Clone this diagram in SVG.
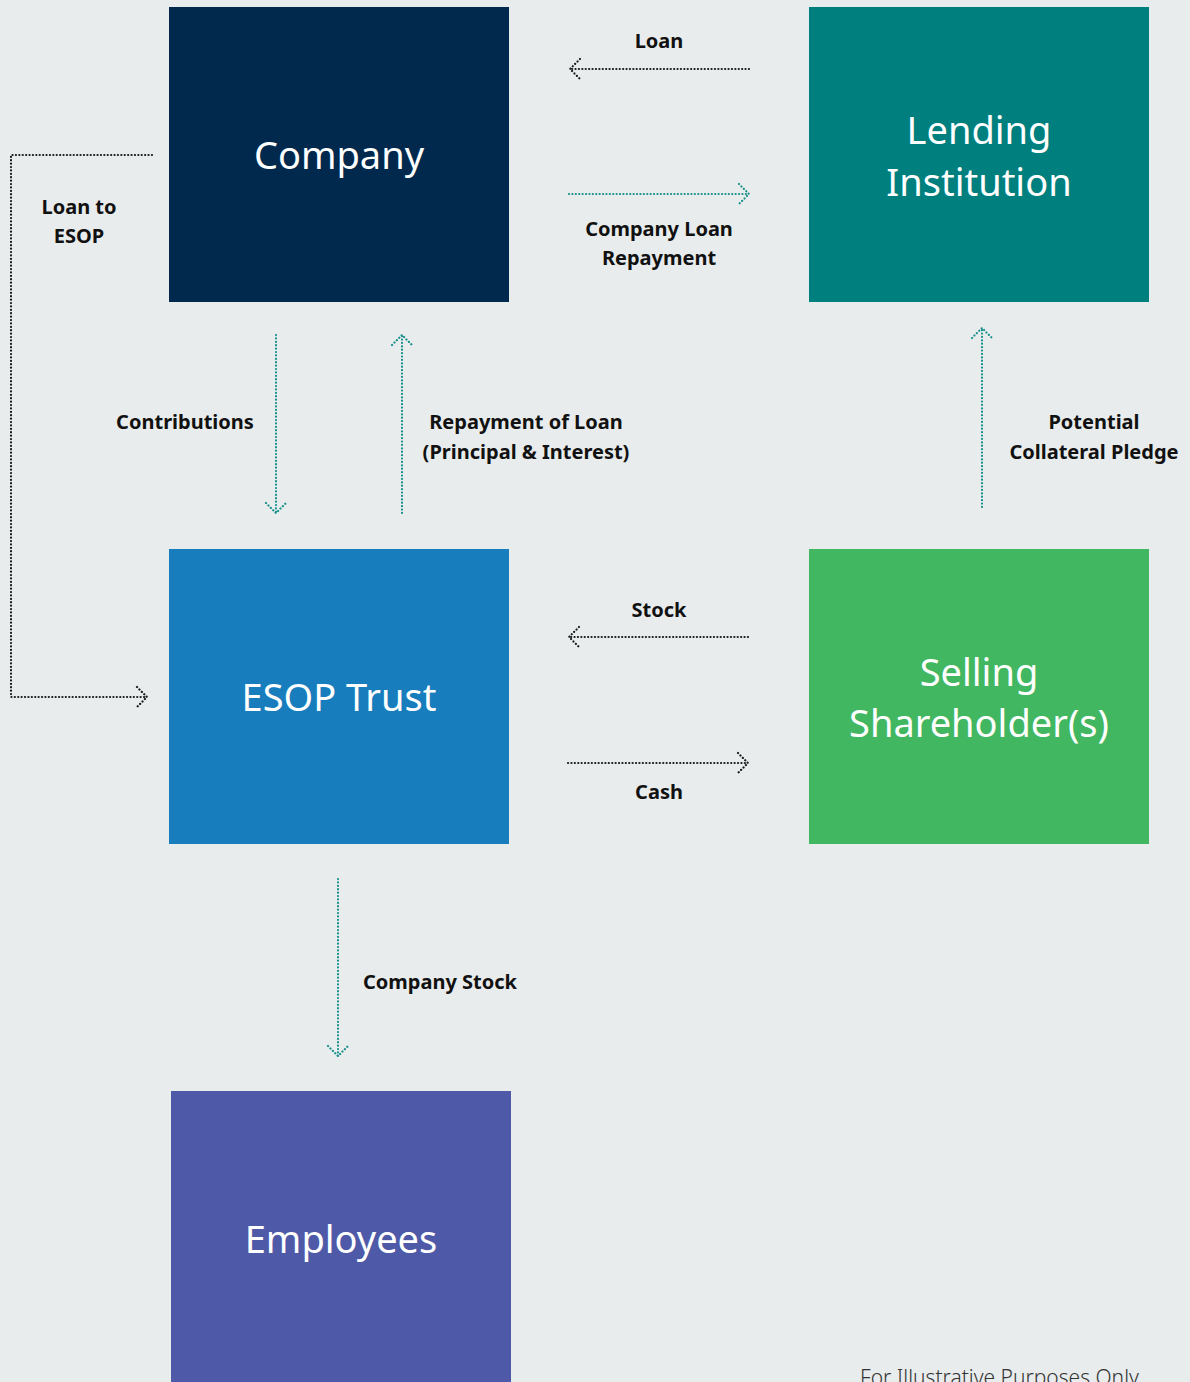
<svg xmlns="http://www.w3.org/2000/svg" width="1190" height="1382" viewBox="0 0 1190 1382">
<style>
.box{font-family:"Noto Sans","Open Sans",sans-serif;font-size:38px;fill:#ffffff;text-anchor:middle}
.lbl{font-family:"Noto Sans","Open Sans",sans-serif;font-size:20px;font-weight:bold;fill:#111111;text-anchor:middle}
.dk{fill:none;stroke:#1a1a1a;stroke-width:2.2;stroke-dasharray:0.1 3.3;stroke-linecap:round;stroke-linejoin:round}
.tl{fill:none;stroke:#17908c;stroke-width:2.2;stroke-dasharray:0.1 3.3;stroke-linecap:round;stroke-linejoin:round}
.note{font-family:"Noto Sans","Open Sans",sans-serif;font-size:21px;font-weight:300;fill:#333333}
</style>
<rect width="1190" height="1382" fill="#e8ecec"/>
<g id="company"><rect x="169" y="7" width="340" height="295" fill="#00294d"/><text class="box" x="339" y="169">Company</text></g>
<g id="lending"><rect x="809" y="7" width="340" height="295" fill="#007f7f"/><text class="box" x="979" y="144">Lending</text><text class="box" x="979" y="196">Institution</text></g>
<g id="esop"><rect x="169" y="549" width="340" height="295" fill="#177dbd"/><text class="box" x="339" y="711">ESOP Trust</text></g>
<g id="selling"><rect x="809" y="549" width="340" height="295" fill="#42b762"/><text class="box" x="979" y="686">Selling</text><text class="box" x="979" y="737">Shareholder(s)</text></g>
<g id="employees"><rect x="171" y="1091" width="340" height="295" fill="#4e5aa7"/><text class="box" x="341" y="1253">Employees</text></g>
<g id="connectors">
<path class="dk" d="M749 69 H570 M580 59 L570 69 L580 79"/>
<path class="tl" d="M569 194 H749 M739 184 L749 194 L739 204"/>
<path class="dk" d="M152 155 H11 V697 H147 M137 687 L147 697 L137 707"/>
<path class="tl" d="M276 335 V513 M266 503 L276 513 L286 503"/>
<path class="tl" d="M402 513 V335 M392 345 L402 335 L412 345"/>
<path class="tl" d="M982 507 V328 M972 338 L982 328 L992 338"/>
<path class="dk" d="M748 637 H569 M579 627 L569 637 L579 647"/>
<path class="dk" d="M568 763 H748 M738 753 L748 763 L738 773"/>
<path class="tl" d="M338 879 V1056 M328 1046 L338 1056 L348 1046"/>
</g>
<g id="labels">
<text class="lbl" x="659" y="48">Loan</text>
<text class="lbl" x="659" y="236">Company Loan</text>
<text class="lbl" x="659" y="265">Repayment</text>
<text class="lbl" x="79" y="214">Loan to</text>
<text class="lbl" x="79" y="243">ESOP</text>
<text class="lbl" x="185" y="429">Contributions</text>
<text class="lbl" x="526" y="429">Repayment of Loan</text>
<text class="lbl" x="526" y="459">(Principal &amp; Interest)</text>
<text class="lbl" x="1094" y="429">Potential</text>
<text class="lbl" x="1094" y="459">Collateral Pledge</text>
<text class="lbl" x="659" y="617">Stock</text>
<text class="lbl" x="659" y="799">Cash</text>
<text class="lbl" x="440" y="989">Company Stock</text>
<text class="note" x="860" y="1385">For Illustrative Purposes Only</text>
</g>
</svg>
